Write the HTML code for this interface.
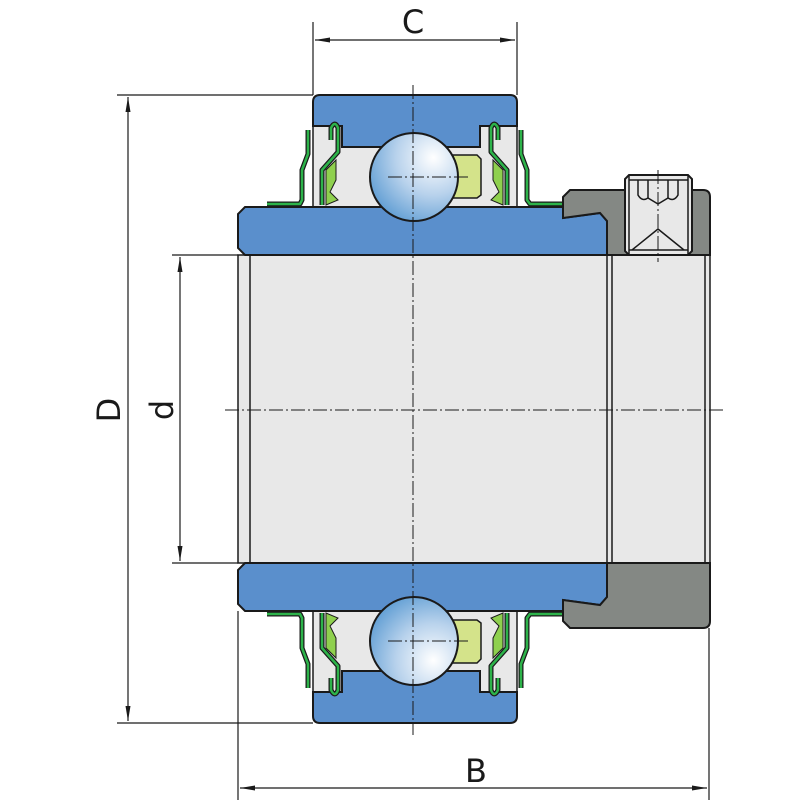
<!DOCTYPE html>
<html><head><meta charset="utf-8"><style>
html,body{margin:0;padding:0;background:#fff;}
svg{display:block;}
text{font-family:"DejaVu Sans","Liberation Sans",sans-serif;fill:#1a1a1a;}
</style></head><body>
<svg width="800" height="800" viewBox="0 0 800 800" xmlns="http://www.w3.org/2000/svg">
<defs>
<radialGradient id="bg" cx="0.72" cy="0.28" r="0.85">
<stop offset="0" stop-color="#ffffff"/><stop offset="0.5" stop-color="#b8d2ec"/><stop offset="1" stop-color="#5a9ad2"/>
</radialGradient>
<marker id="ar" markerWidth="16" markerHeight="8" refX="15" refY="4" orient="auto" markerUnits="userSpaceOnUse">
<path d="M0,1.5 L15,4 L0,6.5 Z" fill="#1a1a1a"/></marker>
<g id="half">
<rect x="313" y="120" width="204" height="90" fill="#e8e8e8" stroke="#1a1a1a" stroke-width="1.5"/>
<path d="M320,95 H510 Q517,95 517,102 V126 H480 V147 H342 V126 H313 V102 Q313,95 320,95 Z" fill="#5a8fcc" stroke="#1a1a1a" stroke-width="2"/>
<path d="M452,155 H477 L481,159 V195 L477,198 H452 Z" fill="#d4e38a" stroke="#1a1a1a" stroke-width="1.5"/>
<g fill="none" stroke-linejoin="round">
<path d="M267,204 H300 L302,200 V170 L308,154 V130" stroke="#1a1a1a" stroke-width="5"/>
<path d="M267,204 H300 L302,200 V170 L308,154 V130" stroke="#2db34a" stroke-width="2.5"/>
<path d="M562,204 H530 L527,200 V170 L521,154 V130" stroke="#1a1a1a" stroke-width="5"/>
<path d="M562,204 H530 L527,200 V170 L521,154 V130" stroke="#2db34a" stroke-width="2.5"/>
<path d="M331,140 V128 Q335,120 338,128 V152 L322,170 V205" stroke="#1a1a1a" stroke-width="5"/>
<path d="M331,140 V128 Q335,120 338,128 V152 L322,170 V205" stroke="#2db34a" stroke-width="2.5"/>
<path d="M498,140 V128 Q494,120 491,128 V152 L507,170 V205" stroke="#1a1a1a" stroke-width="5"/>
<path d="M498,140 V128 Q494,120 491,128 V152 L507,170 V205" stroke="#2db34a" stroke-width="2.5"/>
</g>
<path d="M326,170 L336,160 L336,180 L330,192 L338,200 L326,205 Z" fill="#8fd04e" stroke="#1a1a1a" stroke-width="1"/>
<path d="M503,170 L493,160 L493,180 L499,192 L491,200 L503,205 Z" fill="#8fd04e" stroke="#1a1a1a" stroke-width="1"/>
<path d="M245,207 H563 V218 L600,213 L607,221 V255 H245 L238,248 V214 Z" fill="#5a8fcc" stroke="#1a1a1a" stroke-width="2"/>
<path d="M563,197 L570,190 H703 Q710,190 710,197 V255 H607 V221 L600,213 L563,218 Z" fill="#848884" stroke="#1a1a1a" stroke-width="2"/>
<circle cx="414" cy="177" r="44" fill="url(#bg)" stroke="#1a1a1a" stroke-width="2"/>
</g>
</defs>
<rect x="238" y="255" width="472" height="308" fill="#e8e8e8" stroke="#1a1a1a" stroke-width="1.5"/>
<g stroke="#1a1a1a" stroke-width="1.5">
<line x1="250" y1="255" x2="250" y2="563"/>
<line x1="607" y1="255" x2="607" y2="563"/>
<line x1="612" y1="255" x2="612" y2="563"/>
<line x1="705" y1="255" x2="705" y2="563"/>
</g>
<use href="#half"/>
<use href="#half" transform="translate(0,818) scale(1,-1)"/>
<g stroke="#1a1a1a" stroke-width="1.5" fill="none">
<path d="M629,175 H688 L692,179 V251 L688,255 H629 L625,251 V179 Z" fill="#e8e8e8" stroke-width="2"/>
<line x1="629" y1="175" x2="629" y2="255"/><line x1="688" y1="175" x2="688" y2="255"/>
<line x1="629" y1="180" x2="688" y2="180"/>
<path d="M638,180 V195 Q642,202 648,198 L658,204 L668,198 Q674,202 678,195 V180"/>
<path d="M648,180 V198 M668,180 V198"/>
<path d="M632,250 L658,229 L684,250"/>
<line x1="629" y1="250" x2="688" y2="250"/>
</g>
<g stroke="#1a1a1a" stroke-width="1" stroke-dasharray="14,3,2,3" fill="none">
<line x1="413" y1="85" x2="413" y2="735"/>
<line x1="225" y1="410" x2="725" y2="410"/>
<line x1="658" y1="170" x2="658" y2="262"/>
<line x1="388" y1="177" x2="470" y2="177"/>
<line x1="388" y1="641" x2="470" y2="641"/>
</g>
<g stroke="#1a1a1a" stroke-width="1.2" fill="none">
<line x1="313" y1="22" x2="313" y2="95"/><line x1="517" y1="22" x2="517" y2="95"/>
<line x1="413" y1="40" x2="315" y2="40" marker-end="url(#ar)"/><line x1="413" y1="40" x2="515" y2="40" marker-end="url(#ar)"/>
<line x1="117" y1="95" x2="313" y2="95"/><line x1="117" y1="723" x2="313" y2="723"/>
<line x1="128" y1="410" x2="128" y2="97" marker-end="url(#ar)"/><line x1="128" y1="410" x2="128" y2="721" marker-end="url(#ar)"/>
<line x1="172" y1="255" x2="238" y2="255"/><line x1="172" y1="563" x2="238" y2="563"/>
<line x1="180" y1="410" x2="180" y2="257" marker-end="url(#ar)"/><line x1="180" y1="410" x2="180" y2="561" marker-end="url(#ar)"/>
<line x1="238" y1="611" x2="238" y2="800"/><line x1="709" y1="628" x2="709" y2="800"/>
<line x1="475" y1="788" x2="240" y2="788" marker-end="url(#ar)"/><line x1="475" y1="788" x2="707" y2="788" marker-end="url(#ar)"/>
</g>
<text x="413" y="33" font-size="32" text-anchor="middle">C</text>
<text x="476" y="782" font-size="32" text-anchor="middle">B</text>
<text transform="translate(120,410) rotate(-90)" font-size="32" text-anchor="middle">D</text>
<text transform="translate(173,410) rotate(-90)" font-size="32" text-anchor="middle">d</text>
</svg>
</body></html>
